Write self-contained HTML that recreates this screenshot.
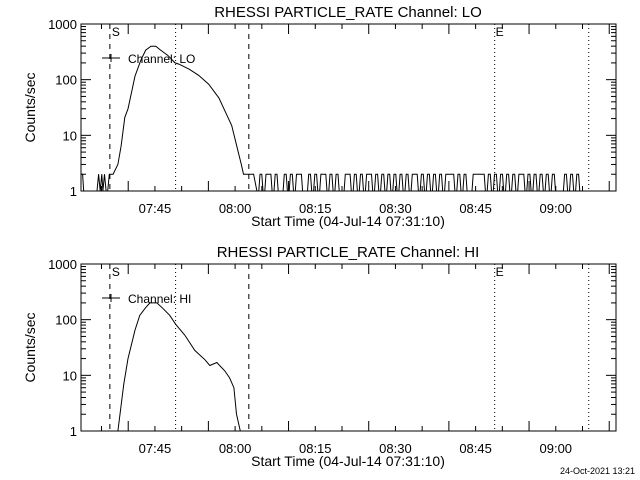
<!DOCTYPE html>
<html><head><meta charset="utf-8"><style>
body{margin:0;background:#fff;}
svg{display:block;font-family:"Liberation Sans",sans-serif;}
</style></head><body>
<svg id="c" width="640" height="480"></svg>
<script>
// time in minutes after 07:31:10
const loTimes=[0,0.3,0.5,3.0,3.3,3.6,3.9,4.1,4.4,4.7,5.0,5.3,6.0,6.9,7.5,8.2,8.8,10.1,11.2,12.1,13.1,14.0,14.9,16.2,17.6,18.3,20.2,22.0,23.9,25.8,27.3,28.2,29.1,30.0,30.4,32.3];
const loValues=[2,2,1,1,2,1,2,1,2,1,1,2,2,3,6.4,21,30,116,225,340,400,400,340,275,200,190,155,120,83,47,23,15,6.7,3,2,2];
const loNoise=[1,2,1,2,2,1,2,1,1,2,1,2,1,2,2,1,1,2,1,2,1,2,2,1,2,1,2,1,1,2,2,1,2,1,2,1,2,2,1,2,1,2,1,2,1,2,1,2,1,2,1,2,2,1,2,1,2,1,2,1,2,1,2,2,2,1,2,1,2,1,1,2,2,2,2,1,2,1,2,1,2,1,2,1,2,1,2,2,1,2,1,2,1,2,1,2,1,2,1,1,1,2,1,2,1,2,1,1];
const noiseStart=32.8, noiseStep=0.57;
const hiTimes=[6.9,8.0,8.8,10.1,11.0,12.0,12.9,14.2,15.3,16.6,17.7,19.4,21.3,23.2,24.1,25.4,26.9,27.8,28.6,29.1,29.8];
const hiValues=[1,7,20,65,120,160,200,200,160,120,83,53,28,19,15,17,12,9,6,2,1];
const xTickLabels=["07:45","08:00","08:15","08:30","08:45","09:00"];
const xTickMins=[13.833,28.833,43.833,58.833,73.833,88.833];
const yTickVals=[1,10,100,1000];
const yTickLabels=["1","10","100","1000"];
const tEnd=100.1;
const vlines=[{t:5.4,d:"5,5"},{t:17.7,d:"1,3"},{t:31.4,d:"5,5"},{t:77.4,d:"1,3"},{t:95.0,d:"1,3"}];
const svg=document.getElementById('c');
const NS="http://www.w3.org/2000/svg";
function mk(tag,attrs,parent,name){const e=document.createElementNS(NS,tag);for(const k in attrs)e.setAttribute(k,attrs[k]);


(parent||svg).appendChild(e);return e;}
function panel(top,chan,times,vals,extra){
  const L=81,R=616,T=top,B=top+167;
  const xs=t=>L+(R-L)*t/tEnd;
  const ys=v=>B-(B-T)*Math.log10(v)/3;
  const g=mk('g',{},svg,'panel-'+chan.toLowerCase());
  const title=mk('text',{x:348,y:T-7,'text-anchor':'middle','font-size':15},g,'chart-title');title.textContent="RHESSI PARTICLE_RATE Channel: "+chan;
  mk('rect',{x:L,y:T,width:R-L,height:B-T,fill:'none',stroke:'#000','stroke-width':1},g,'plot-frame');
  for(let d=0;d<3;d++)for(let m=1;m<=9;m++){const y=ys(Math.pow(10,d)*m);const len=m==1?10:5;
    mk('line',{x1:L,x2:L+len,y1:y,y2:y,stroke:'#000'},g,'y-tick');mk('line',{x1:R,x2:R-len,y1:y,y2:y,stroke:'#000'},g,'y-tick');}
  yTickVals.forEach((v,i)=>{const t=mk('text',{x:L-4,y:ys(v)+5,'text-anchor':'end','font-size':13},g,'y-tick-label');t.textContent=yTickLabels[i];});
  for(let m=-1;m<20;m++){const t=3.833+5*m;if(t<=0||t>=tEnd)continue;const x=xs(t);const len=(m%3==1)?10:5;
    mk('line',{x1:x,x2:x,y1:B,y2:B-len,stroke:'#000'},g,'x-tick');mk('line',{x1:x,x2:x,y1:T,y2:T+len,stroke:'#000'},g,'x-tick');}
  xTickLabels.forEach((s,i)=>{const t=mk('text',{x:xs(xTickMins[i]),y:B+22,'text-anchor':'middle','font-size':13},g,'x-tick-label');t.textContent=s;});
  const xt=mk('text',{x:348,y:B+35,'text-anchor':'middle','font-size':14},g,'x-axis-title');xt.textContent="Start Time (04-Jul-14 07:31:10)";
  const yt=mk('text',{x:0,y:0,'text-anchor':'middle','font-size':14,transform:`translate(35,${(T+B)/2}) rotate(-90)`},g,'y-axis-title');yt.textContent="Counts/sec";
  vlines.forEach(v=>mk('line',{x1:xs(v.t),x2:xs(v.t),y1:T,y2:B,stroke:'#000','stroke-dasharray':v.d},g,'marker-line'));
  const s=mk('text',{x:xs(5.4)+2,y:T+12,'font-size':12},g,'start-marker');s.textContent="S";
  const e=mk('text',{x:xs(77.4)+1,y:T+12,'font-size':12},g,'end-marker');e.textContent="E";
  mk('line',{x1:102,x2:120,y1:T+34,y2:T+34,stroke:'#000'},g,'legend-line');
  mk('line',{x1:111,x2:111,y1:T+30,y2:T+38,stroke:'#000'},g,'legend-tick');
  const lt=mk('text',{x:128,y:T+39,'font-size':12},g,'legend-entry');lt.textContent="Channel: "+chan;
  let d="";
  times.forEach((t,i)=>{const x=xs(t),y=Math.min(B,ys(vals[i]));d+=(i?"L":"M")+x.toFixed(1)+","+y.toFixed(1);});
  if(extra){extra.forEach((v,i)=>{const x0=xs(noiseStart+i*noiseStep),x1=xs(noiseStart+(i+1)*noiseStep),y=ys(v);
    d+="L"+(x0+0.6).toFixed(1)+","+y.toFixed(1)+"L"+(x1-0.6).toFixed(1)+","+y.toFixed(1);});}
  mk('path',{d:d,fill:'none',stroke:'#000','stroke-width':1},g,'series-'+chan.toLowerCase());
}
panel(24,"LO",loTimes,loValues,loNoise);
panel(264,"HI",hiTimes,hiValues,null);
const dt=mk('text',{x:635,y:474,'text-anchor':'end','font-size':9},svg,'timestamp');dt.textContent="24-Oct-2021 13:21";
</script>
</body></html>
